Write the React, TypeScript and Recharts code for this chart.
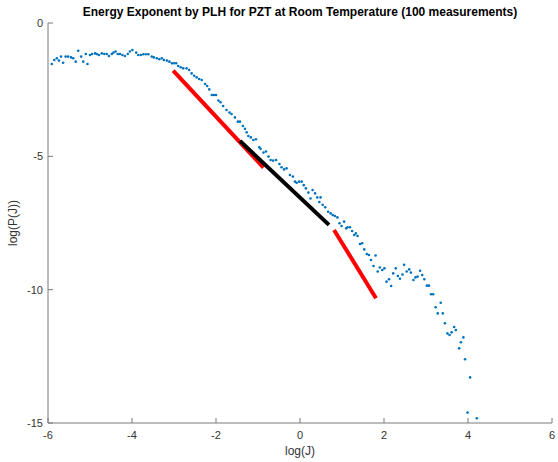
import React from "react";
import { ScatterChart, Scatter, XAxis, YAxis, ReferenceLine } from "recharts";

const logJ = [
  -5.91, -5.85, -5.79, -5.74, -5.69, -5.64, -5.58, -5.52, -5.45, -5.4, -5.34, -5.28, -5.21, -5.16, -5.1, -5.06,
  -5.0, -4.95, -4.88, -4.84, -4.79, -4.72, -4.66, -4.6, -4.55, -4.48, -4.44, -4.39, -4.34, -4.29, -4.23, -4.17,
  -4.1, -4.05, -3.99, -3.9, -3.85, -3.79, -3.73, -3.67, -3.61, -3.53, -3.48, -3.41, -3.35, -3.29, -3.24, -3.17,
  -3.11, -3.05, -3.0, -2.95, -2.9, -2.84, -2.78, -2.7, -2.64, -2.58, -2.52, -2.46, -2.4, -2.34, -2.26, -2.21,
  -2.16, -2.1, -2.05, -2.0, -1.94, -1.89, -1.83, -1.75, -1.68, -1.63, -1.55, -1.48, -1.43, -1.36, -1.31, -1.27,
  -1.23, -1.17, -1.11, -1.05, -0.97, -0.94, -0.87, -0.81, -0.75, -0.7, -0.64, -0.57, -0.49, -0.44, -0.38, -0.32,
  -0.24, -0.17, -0.12, -0.08, -0.02, 0.04, 0.09, 0.14, 0.2, 0.25, 0.3, 0.36, 0.41, 0.46, 0.49, 0.54,
  0.6, 0.67, 0.73, 0.78, 0.83, 0.89, 0.94, 0.99, 1.05, 1.1, 1.13, 1.19, 1.24, 1.29, 1.33, 1.37,
  1.43, 1.48, 1.53, 1.59, 1.64, 1.69, 1.75, 1.8, 1.85, 1.9, 1.96, 2.01, 2.06, 2.12, 2.17, 2.22,
  2.28, 2.33, 2.38, 2.44, 2.48, 2.54, 2.6, 2.64, 2.7, 2.75, 2.8, 2.86, 2.91, 2.96, 3.02, 3.07,
  3.12, 3.17, 3.23, 3.28, 3.35, 3.4, 3.45, 3.51, 3.56, 3.61, 3.67, 3.71, 3.79, 3.83, 3.89, 3.93,
  4.05, 3.99, 4.21,
];

const logP = [
  -1.54, -1.39, -1.32, -1.41, -1.26, -1.49, -1.26, -1.26, -1.29, -1.32, -1.45, -1.04, -1.26, -1.45, -1.16, -1.54,
  -1.2, -1.16, -1.14, -1.16, -1.2, -1.14, -1.16, -1.16, -1.24, -1.16, -1.11, -1.07, -1.16, -1.16, -1.2, -1.24,
  -1.16, -1.07, -1.01, -1.11, -1.2, -1.2, -1.17, -1.17, -1.17, -1.26, -1.29, -1.32, -1.36, -1.32, -1.39, -1.41,
  -1.45, -1.51, -1.51, -1.51, -1.61, -1.66, -1.7, -1.7, -1.76, -1.89, -1.98, -2.04, -2.1, -2.14, -2.29, -2.36,
  -2.49, -2.7, -2.7, -2.7, -2.91, -2.97, -3.11, -3.26, -3.36, -3.41, -3.54, -3.7, -3.7, -3.86, -3.97, -4.1,
  -4.24, -4.29, -4.39, -4.36, -4.66, -4.72, -4.86, -4.82, -5.01, -5.14, -5.16, -5.14, -5.29, -5.41, -5.49, -5.45,
  -5.7, -5.76, -5.95, -5.99, -5.95, -5.95, -6.08, -6.2, -6.36, -6.58, -6.26, -6.39, -6.54, -6.71, -6.54, -6.82,
  -6.91, -7.08, -7.14, -7.2, -7.24, -7.29, -7.51, -7.61, -7.45, -7.7, -7.66, -7.66, -7.8, -7.95, -7.89, -7.99,
  -8.29, -8.26, -8.49, -8.66, -8.7, -8.89, -9.11, -8.72, -9.32, -9.17, -9.26, -9.2, -9.7, -9.61, -9.86, -9.39,
  -9.2, -9.49, -9.59, -9.43, -9.07, -9.32, -9.24, -9.36, -9.64, -9.54, -9.51, -9.29, -9.45, -9.61, -9.85, -9.85,
  -10.17, -10.17, -10.66, -10.89, -10.49, -10.89, -11.26, -11.64, -11.7, -11.6, -11.4, -11.51, -12.2, -11.97, -11.79, -12.61,
  -13.29, -14.61, -14.82,
];

const fitRed1 = [
  { x: -3.02, y: -1.79 },
  { x: -0.87, y: -5.42 },
];
const fitBlack = [
  { x: -1.43, y: -4.42 },
  { x: 0.69, y: -7.57 },
];
const fitRed2 = [
  { x: 0.81, y: -7.76 },
  { x: 1.81, y: -10.32 },
];

const xTicks = [-6, -4, -2, 0, 2, 4, 6];
const yTicks = [-15, -10, -5, 0];

const points = logJ.map((x, i) => ({ x, y: logP[i] }));

const AXIS = "#7a7a7a";
const TEXT = "#333333";
const FONT = "'Liberation Sans', Arial, Helvetica, sans-serif";

const XTick = (props: any) => {
  const { x, y, payload } = props;
  return (
    <g>
      <line x1={x} x2={x} y1={y} y2={y - 5} stroke={AXIS} strokeWidth={1} />
      <text x={x} y={y + 16} textAnchor="middle" fill={TEXT} fontSize={11} fontFamily={FONT}>
        {payload.value}
      </text>
    </g>
  );
};

const YTick = (props: any) => {
  const { x, y, payload } = props;
  return (
    <g>
      <line x1={x} x2={x + 5} y1={y} y2={y} stroke={AXIS} strokeWidth={1} />
      <text x={x - 5} y={y + 4} textAnchor="end" fill={TEXT} fontSize={11} fontFamily={FONT}>
        {payload.value}
      </text>
    </g>
  );
};

const Dot = (props: any) => {
  const { cx, cy } = props;
  return <circle cx={cx} cy={cy} r={1.3} fill="#0072BD" />;
};

export default function App() {
  return (
    <div style={{ position: "absolute", left: 0, top: 0, width: 558, height: 462, background: "#fff" }}>
      <ScatterChart width={558} height={462} margin={{ top: 23, right: 6, bottom: 0, left: 0 }}>
        <XAxis
          type="number"
          dataKey="x"
          domain={[-6, 6]}
          ticks={xTicks}
          height={39}
          tickSize={0}
          tickMargin={0}
          tickLine={false}
          axisLine={{ stroke: AXIS }}
          tick={<XTick />}
          interval={0}
        />
        <YAxis
          type="number"
          dataKey="y"
          domain={[-15, 0]}
          ticks={yTicks}
          width={48}
          tickSize={0}
          tickMargin={0}
          tickLine={false}
          axisLine={{ stroke: AXIS }}
          tick={<YTick />}
          interval={0}
        />
        <Scatter data={points} shape={<Dot />} isAnimationActive={false} />
        <ReferenceLine segment={fitRed1} stroke="#ff0000" strokeWidth={4} ifOverflow="visible" />
        <ReferenceLine segment={fitBlack} stroke="#000000" strokeWidth={4} ifOverflow="visible" />
        <ReferenceLine segment={fitRed2} stroke="#ff0000" strokeWidth={4} ifOverflow="visible" />
      </ScatterChart>
      <div
        style={{
          position: "absolute",
          left: 48,
          width: 504,
          top: 5,
          textAlign: "center",
          fontFamily: FONT,
          fontWeight: "bold",
          fontSize: 12,
          color: "#000",
          whiteSpace: "nowrap",
        }}
      >
        Energy Exponent by PLH for PZT at Room Temperature (100 measurements)
      </div>
      <div
        style={{
          position: "absolute",
          left: 48,
          width: 504,
          top: 444,
          textAlign: "center",
          fontFamily: FONT,
          fontSize: 12,
          color: TEXT,
        }}
      >
        log(J)
      </div>
      <div
        style={{
          position: "absolute",
          left: 13,
          top: 223,
          transform: "translate(-50%, -50%) rotate(-90deg)",
          fontFamily: FONT,
          fontSize: 12,
          color: TEXT,
          whiteSpace: "nowrap",
        }}
      >
        log(P(J))
      </div>
    </div>
  );
}
